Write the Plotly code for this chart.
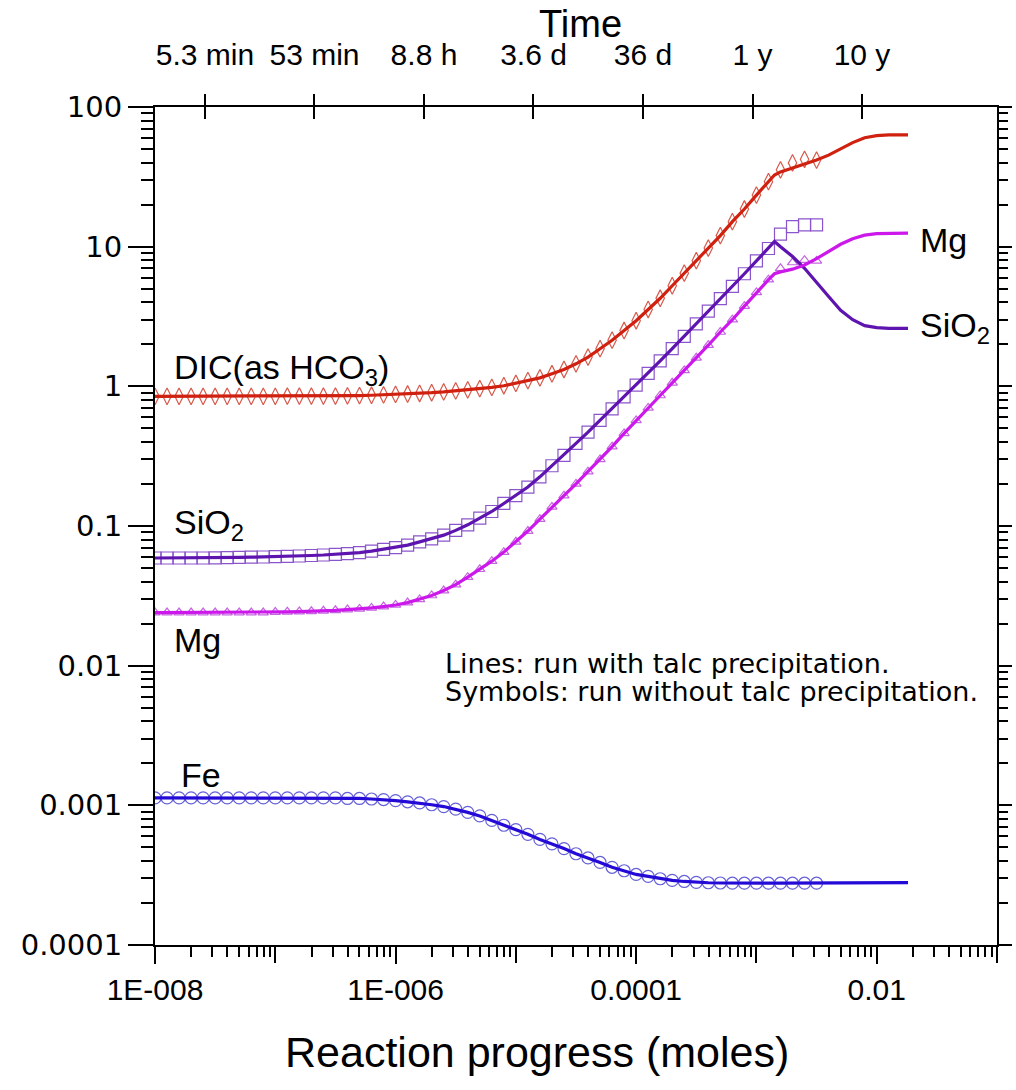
import plotly.graph_objects as go

# ---------------- data ----------------
# symbol runs (without talc precipitation): log10(reaction progress, moles)
sym_log_progress = [
    -8.0, -7.9, -7.8, -7.7, -7.6, -7.5, -7.4, -7.3, -7.2, -7.1,
    -7.0, -6.9, -6.8, -6.7, -6.6, -6.5, -6.4, -6.3, -6.2, -6.1,
    -6.0, -5.9, -5.8, -5.7, -5.6, -5.5, -5.4, -5.3, -5.2, -5.1,
    -5.0, -4.9, -4.8, -4.7, -4.6, -4.5, -4.4, -4.3, -4.2, -4.1,
    -4.0, -3.9, -3.8, -3.7, -3.6, -3.5, -3.4, -3.3, -3.2, -3.1,
    -3.0, -2.9, -2.8, -2.7, -2.6, -2.5,
]
dic_sym = [
    0.848, 0.848, 0.848, 0.848, 0.848, 0.848, 0.848, 0.848, 0.848, 0.848,
    0.848, 0.851, 0.851, 0.851, 0.851, 0.851, 0.855, 0.859, 0.863, 0.869,
    0.875, 0.881, 0.889, 0.900, 0.912, 0.927, 0.944, 0.964, 0.982, 1.01,
    1.05, 1.10, 1.15, 1.23, 1.32, 1.45, 1.62, 1.86, 2.14, 2.51,
    2.95, 3.55, 4.27, 5.25, 6.46, 7.94, 9.77, 12.0, 15.1, 18.6,
    23.4, 29.2, 35.5, 39.8, 42.2, 41.7,
]
sio2_sym = [
    0.0590, 0.0590, 0.0590, 0.0590, 0.0590, 0.0592, 0.0594, 0.0596, 0.0598, 0.0600,
    0.0603, 0.0606, 0.0610, 0.0615, 0.0620, 0.0627, 0.0635, 0.0645, 0.0660, 0.0680,
    0.0700, 0.0730, 0.0770, 0.0810, 0.0860, 0.0930, 0.102, 0.114, 0.127, 0.145,
    0.165, 0.190, 0.225, 0.270, 0.320, 0.390, 0.470, 0.570, 0.690, 0.840,
    1.02, 1.24, 1.52, 1.86, 2.28, 2.80, 3.45, 4.25, 5.20, 6.40,
    7.90, 9.70, 12.3, 13.9, 14.3, 14.3,
]
mg_sym = [
    0.0240, 0.0240, 0.0240, 0.0240, 0.0240, 0.0240, 0.0240, 0.0240, 0.0240, 0.0240,
    0.0242, 0.0243, 0.0244, 0.0245, 0.0247, 0.0249, 0.0252, 0.0255, 0.0259, 0.0265,
    0.0272, 0.0283, 0.0298, 0.0318, 0.0345, 0.0380, 0.0430, 0.0490, 0.0560, 0.0650,
    0.0770, 0.0920, 0.112, 0.137, 0.165, 0.200, 0.245, 0.300, 0.370, 0.460,
    0.570, 0.700, 0.860, 1.06, 1.30, 1.60, 1.97, 2.45, 3.00, 3.75,
    4.70, 5.80, 7.00, 7.70, 8.00, 7.90,
]
fe_sym = [
    0.00113, 0.00113, 0.00113, 0.00113, 0.00113, 0.00113, 0.00113, 0.00113, 0.00113, 0.00113,
    0.00113, 0.00113, 0.00113, 0.00113, 0.00113, 0.00113, 0.00112, 0.00112, 0.00111, 0.00110,
    0.00108, 0.00106, 0.00104, 0.00101, 0.00098, 0.00094, 0.00089, 0.00084, 0.00078, 0.00072,
    0.00067, 0.00062, 0.00057, 0.00053, 0.00049, 0.00045, 0.00042, 0.00039, 0.00036, 0.00034,
    0.00032, 0.00031, 0.000298, 0.00029, 0.000285, 0.000281, 0.000279, 0.000278, 0.000277, 0.000277,
    0.000277, 0.000277, 0.000277, 0.000277, 0.000277, 0.000277,
]

# line runs (with talc precipitation): identical to the symbols up to log x = -2.9,
# then these tail values
n_shared = 52  # points -8.0 ... -2.9
line_tail_log_progress = [-2.85, -2.8, -2.7, -2.6, -2.5, -2.4, -2.3, -2.2, -2.1, -2.0, -1.9, -1.8, -1.74]
dic_tail = [32.6, 34.3, 36.7, 38.9, 41.7, 45.2, 50.1, 55.6, 60.3, 62.4, 63.1, 63.1, 63.1]
sio2_tail = [10.9, 10.0, 8.5, 7.0, 5.6, 4.4, 3.5, 3.0, 2.72, 2.63, 2.6, 2.6, 2.6]
mg_tail = [6.4, 6.6, 6.9, 7.4, 8.2, 9.2, 10.4, 11.4, 12.1, 12.4, 12.5, 12.5, 12.5]
fe_tail = [0.000277, 0.000277, 0.000277, 0.000277, 0.000277, 0.000277, 0.000278,
           0.000278, 0.000279, 0.00028, 0.00028, 0.00028, 0.00028]

# axis ticks
x_tick_vals = [1e-8, 1e-6, 1e-4, 1e-2]
x_tick_text = ["1E-008", "1E-006", "0.0001", "0.01"]
x_unlabeled_decades = [1e-7, 1e-5, 1e-3, 1e-1]
y_tick_vals = [1e-4, 1e-3, 1e-2, 1e-1, 1, 10, 100]
y_tick_text = ["0.0001", "0.001", "0.01", "0.1", "1", "10", "100"]
time_tick_minutes = [5.3, 53, 530, 5300, 53000, 530000, 5300000]
time_tick_text = ["5.3 min", "53 min", "8.8 h", "3.6 d", "36 d", "1 y", "10 y"]

# ---------------- build ----------------
sym_x = [10 ** v for v in sym_log_progress]
line_x = sym_x[:n_shared] + [10 ** v for v in line_tail_log_progress]

series = [
    # name, symbols, tail, line colour, symbol colour, symbol, size
    ("DIC", dic_sym, dic_tail, "#d0200f", "#d65a4c", "diamond-tall-open", 12),
    ("SiO2", sio2_sym, sio2_tail, "#5e14ae", "#8a55cc", "square-open", 12),
    ("Mg", mg_sym, mg_tail, "#cc18ea", "#c466e0", "triangle-up-open", 9),
    ("Fe", fe_sym, fe_tail, "#240ad6", "#6560d8", "circle-open", 12),
]

fig = go.Figure()
for name, sym, tail, lc, sc, symbol, size in series:
    fig.add_trace(go.Scatter(
        x=sym_x, y=sym, mode="markers", name=name + " (no talc)",
        marker=dict(symbol=symbol, size=size, color=sc, line=dict(width=1.2, color=sc)),
        showlegend=False, hoverinfo="x+y",
    ))
for name, sym, tail, lc, sc, symbol, size in series:
    fig.add_trace(go.Scatter(
        x=line_x, y=sym[:n_shared] + tail, mode="lines", name=name,
        line=dict(color=lc, width=3.2), showlegend=False, hoverinfo="x+y",
    ))

# helper traces so the extra axes (time on top, right-hand ticks, odd decades) are drawn
for xa, ya in (("x2", "y"), ("x3", "y"), ("x4", "y"), ("x", "y2")):
    fig.add_trace(go.Scatter(x=[], y=[], xaxis=xa, yaxis=ya, showlegend=False, hoverinfo="skip"))

minor_x = [m * 10 ** e for e in range(-8, -1) for m in range(2, 10)]
minor_y = [m * 10 ** e for e in range(-4, 2) for m in range(2, 10)]

sans = "Liberation Sans, Arial, sans-serif"
wide = "DejaVu Sans, Verdana, sans-serif"
time_range = [0.268, 7.957]

# the page body margin is removed (post_script below), so the figure fills the window
fig.update_layout(
    width=1016, height=1090,
    margin=dict(l=155, r=19, t=107, b=145, autoexpand=False),
    paper_bgcolor="white", plot_bgcolor="white",
    font=dict(family=sans, color="black"),
    xaxis=dict(
        type="log", range=[-8, -1], showgrid=False, zeroline=False, automargin=False,
        showline=True, linecolor="black", linewidth=2, mirror=True,
        ticks="outside", ticklen=17, tickwidth=2, tickcolor="black",
        tickmode="array", tickvals=x_tick_vals, ticktext=x_tick_text,
        tickfont=dict(family=sans, size=30),
        minor=dict(ticks="outside", ticklen=10, tickwidth=1.5, tickcolor="black",
                   tickmode="array", tickvals=minor_x, showgrid=False),
    ),
    xaxis4=dict(
        type="log", range=[-8, -1], overlaying="x", side="bottom", anchor="y",
        showgrid=False, zeroline=False, showline=False, automargin=False,
        ticks="outside", ticklen=17, tickwidth=2, tickcolor="black",
        tickmode="array", tickvals=x_unlabeled_decades, showticklabels=False,
    ),
    xaxis2=dict(
        type="log", range=time_range, overlaying="x", side="top", anchor="y",
        showgrid=False, zeroline=False, showline=False, automargin=False,
        ticks="outside", ticklen=12, tickwidth=2, tickcolor="black",
        tickmode="array", tickvals=time_tick_minutes, ticktext=time_tick_text,
        tickfont=dict(family=sans, size=30), ticklabelstandoff=17,
    ),
    xaxis3=dict(
        type="log", range=time_range, overlaying="x", side="top", anchor="y",
        showgrid=False, zeroline=False, showline=False, automargin=False,
        ticks="inside", ticklen=12, tickwidth=2, tickcolor="black",
        tickmode="array", tickvals=time_tick_minutes, showticklabels=False,
    ),
    yaxis=dict(
        type="log", range=[-4, 2], showgrid=False, zeroline=False, automargin=False,
        showline=True, linecolor="black", linewidth=2, mirror=True,
        ticks="outside", ticklen=25, tickwidth=2, tickcolor="black",
        tickmode="array", tickvals=y_tick_vals, ticktext=y_tick_text,
        tickfont=dict(family=wide, size=29),
        minor=dict(ticks="outside", ticklen=12, tickwidth=1.5, tickcolor="black",
                   tickmode="array", tickvals=minor_y, showgrid=False),
    ),
    yaxis2=dict(
        type="log", range=[-4, 2], overlaying="y", side="right", anchor="x",
        showgrid=False, zeroline=False, showline=False, automargin=False,
        ticks="outside", ticklen=14, tickwidth=2, tickcolor="black",
        tickmode="array", tickvals=y_tick_vals, showticklabels=False,
        minor=dict(ticks="outside", ticklen=10, tickwidth=1.5, tickcolor="black",
                   tickmode="array", tickvals=minor_y),
    ),
)

label_font = dict(family=sans, size=34, color="black")
note_font = dict(family=wide, size=27, color="black")
annotations = [
    dict(text="Time", xref="paper", yref="paper", x=0.505, y=1.0990,
         font=dict(family=sans, size=38, color="black")),
    dict(text="Reaction progress (moles)", xref="paper", yref="paper", x=0.454, y=-0.128,
         font=dict(family=sans, size=43, color="black")),
    dict(text="DIC(as HCO<sub>3</sub>)", x=-7.86, y=0.117, xanchor="left", font=label_font),
    dict(text="SiO<sub>2</sub>", x=-7.86, y=-0.99, xanchor="left", font=label_font),
    dict(text="Mg", x=-7.86, y=-1.815, xanchor="left", font=label_font),
    dict(text="Fe", x=-7.8, y=-2.78, xanchor="left", font=label_font),
    dict(text="Mg", x=-1.66, y=1.048, xanchor="left", font=label_font),
    dict(text="SiO<sub>2</sub>", x=-1.66, y=0.418, xanchor="left", font=label_font),
    dict(text="Lines: run with talc precipitation.", x=-5.606, y=-1.985, xanchor="left", font=note_font),
    dict(text="Symbols: run without talc precipitation.", x=-5.606, y=-2.185, xanchor="left", font=note_font),
]
for a in annotations:
    a.setdefault("xref", "x")
    a.setdefault("yref", "y")
    a.setdefault("yanchor", "middle")
    a["showarrow"] = False
fig.update_layout(annotations=annotations)

fig.write_html(
    "out.html",
    config={"displayModeBar": False},
    post_script="document.body.style.margin='0';document.body.style.overflow='hidden';",
)
